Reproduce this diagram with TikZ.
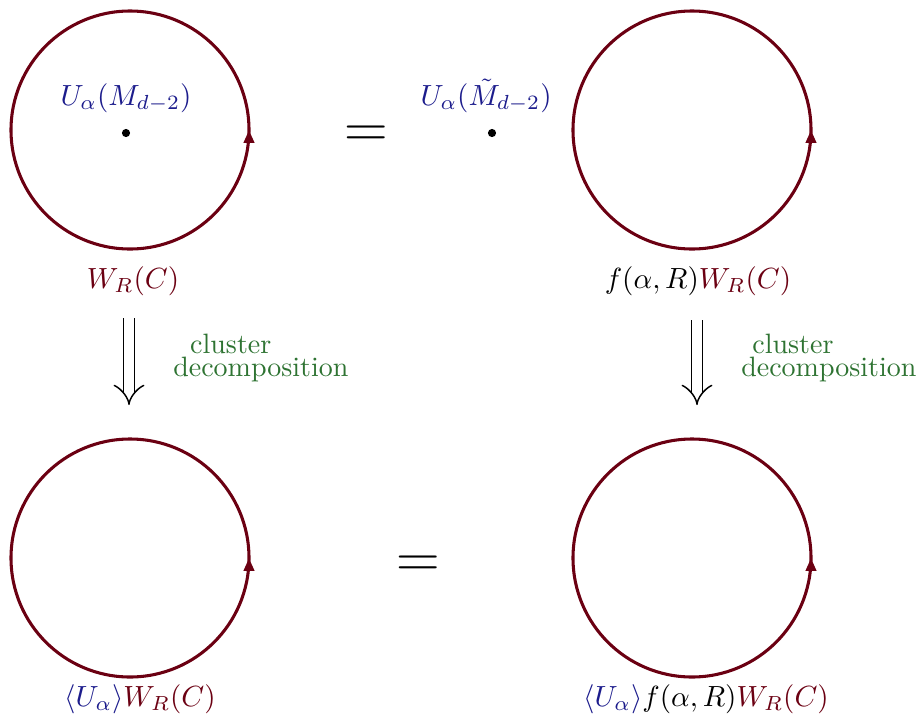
\documentclass[tikz,border=0pt]{standalone}
\usepackage{tikz}
\usetikzlibrary{arrows.meta, positioning, decorations.markings}
\usepackage{xcolor}
\definecolor{rr}{HTML}{6B0012}
\definecolor{bb}{HTML}{1C1C8C}
\definecolor{gg}{HTML}{2E7332}

\begin{document}
\begin{tikzpicture}[x=0.01205cm, y=0.01205cm,
    loop/.style={rr, line width=1.05pt, postaction={decorate},
      decoration={markings, mark=at position 0.25 with {\arrow{Triangle[length=4.4pt, width=3.5pt]}}}},
    pt/.style={circle, fill, inner sep=0pt, minimum size=2.8pt},
    ulab/.style={bb},
    eq/.style={font=\fontsize{20}{24}\selectfont},
    imp/.style={double, double distance=3.3pt, line width=0.5pt, -{Implies}},
    cd/.style={gg, align=left, anchor=west, font=\fontsize{9.6}{8.2}\selectfont}]
  \useasboundingbox (0,0) rectangle (922,725);

  \coordinate (cTL) at (130,595);
  \coordinate (cTR) at (692,595);
  \coordinate (cBL) at (130,167);
  \coordinate (cBR) at (692,167);

  % Wilson loops
  \draw[loop] (cTL) ++(-90:119) arc[start angle=-90, end angle=270, radius=119];
  \draw[loop] (cTR) ++(-90:119) arc[start angle=-90, end angle=270, radius=119];
  \draw[loop] (cBL) ++(-90:119) arc[start angle=-90, end angle=270, radius=119];
  \draw[loop] (cBR) ++(-90:119) arc[start angle=-90, end angle=270, radius=119];

  % symmetry operators
  \node[pt] (pL) at (126,592) {};
  \node[pt] (pR) at (492,592) {};
  \node[ulab, above=1.8pt of pL] (uL) {$U_\alpha(M_{d-2})$};
  \node[ulab, above=1.8pt of pR, xshift=-2] (uR) {$U_\alpha(\tilde M_{d-2})$};

  \node (wTL) at (133,444) {$\color{rr}W_R(C)$};
  \node (wTR) at (698,444) {$f(\alpha,R){\color{rr}W_R(C)}$};
  \node (wBL) at (140,26) {${\color{bb}\langle U_\alpha\rangle}{\color{rr}W_R(C)}$};
  \node (wBR) at (706,26) {${\color{bb}\langle U_\alpha\rangle}f(\alpha,R){\color{rr}W_R(C)}$};

  \node[eq] (eqT) at (366,588) {$=$};
  \node[eq] (eqB) at (418,158) {$=$};

  % cluster decomposition
  \coordinate (aL1) at (129,407);
  \coordinate (aL2) at (129,320);
  \coordinate (aR1) at (697,405);
  \coordinate (aR2) at (697,320);
  \draw[imp] (aL1) -- (aL2);
  \draw[imp] (aR1) -- (aR2);
  \node[cd] (dL) at (163,367) {\hspace{5.8pt}cluster\\decomposition};
  \node[cd] (dR) at (731,367) {\hspace{3.8pt}cluster\\decomposition};
\end{tikzpicture}
\end{document}
